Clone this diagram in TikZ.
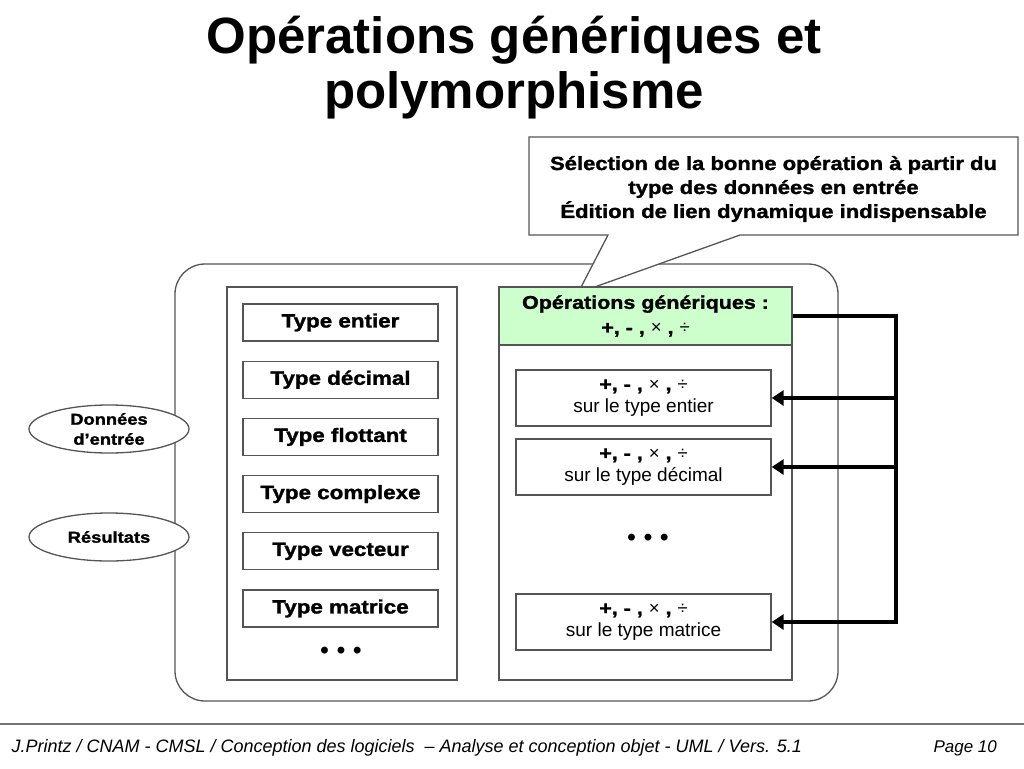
\documentclass[tikz,border=0pt]{standalone}
\usepackage{fontspec}
\setmainfont{Liberation Sans}
\newfontfamily\titlefont[FakeStretch=1.0]{Liberation Sans}
\newfontfamily\blackfont[FakeStretch=1.16,FakeBold=1.5]{Liberation Sans}
\usepackage{tikz}
\usetikzlibrary{arrows.meta,shapes.geometric,positioning}
\definecolor{opgreen}{RGB}{204,255,204}
\definecolor{linegray}{RGB}{85,85,85}
\newcommand{\opsigns}{+, - , {\rmfamily\mdseries ×} , {\rmfamily\mdseries ÷}}
\newcommand{\threedots}{•\hspace{8pt}•\hspace{8pt}•}
\tikzstyle{frame} = [draw=linegray, line width=1.3pt]
\tikzstyle{colbox} = [draw=linegray, line width=1.3pt, fill=white, inner sep=0pt]
\tikzstyle{typebox} = [draw=linegray, line width=1.3pt, minimum width=195pt, minimum height=37pt, inner sep=0pt, font=\blackfont\bfseries\fontsize{19.3}{22}\selectfont]
\tikzstyle{hdrbox} = [draw=linegray, line width=1.3pt, fill=opgreen, minimum width=293pt, minimum height=58pt, inner sep=0pt, align=center, font=\blackfont\bfseries\fontsize{18.5}{25}\selectfont]
\tikzstyle{opbox} = [draw=linegray, line width=1.3pt, fill=white, minimum width=255pt, minimum height=56pt, inner sep=0pt, align=center, font=\fontsize{19}{22}\selectfont]
\tikzstyle{ioell} = [ellipse, draw=linegray, line width=1.3pt, fill=white, minimum width=160pt, minimum height=48pt, inner sep=0pt, align=center, font=\blackfont\bfseries\fontsize{15.8}{20}\selectfont]
\tikzstyle{dots} = [font=\bfseries\fontsize{24}{24}\selectfont]
\tikzstyle{bus} = [line width=4.5pt, line join=miter, -{Triangle[length=12pt,width=15pt]}]

\begin{document}
\begin{tikzpicture}[x=1pt, y=-1pt]
\useasboundingbox (0,0) rectangle (1024,768);

% Title
\node[font=\titlefont\bfseries\fontsize{51}{55}\selectfont, align=center] (title) at (514,68) {Opérations génériques et\\polymorphisme};

% Outer frame
\draw[frame, rounded corners=30pt] (175,264) rectangle (838,701);

% Callout
\draw[frame, fill=white] (608,235) -- (578,293) -- (740,235) -- (1018,235) -- (1018,137) -- (529,137) -- (529,235) -- cycle;
\node[font=\blackfont\bfseries\fontsize{19}{24}\selectfont, align=center] (note) at (773.5,189) {Sélection de la bonne opération à partir du\\type des données en entrée\\Édition de lien dynamique indispensable};

% Types column
\node[colbox, minimum width=230pt, minimum height=393pt] (types) at (342,483.5) {};
\node[typebox] (tent) at (340.5,322.5) {Type entier};
\node[typebox] (tdec) at (340.5,379.7) {Type décimal};
\node[typebox] (tflo) at (340.5,436.9) {Type flottant};
\node[typebox] (tcpx) at (340.5,494.1) {Type complexe};
\node[typebox] (tvec) at (340.5,551.3) {Type vecteur};
\node[typebox] (tmat) at (340.5,608.5) {Type matrice};
\node[dots] (tdots) at (341,653) {\threedots};

% Operations column
\node[colbox, minimum width=293pt, minimum height=393pt] (ops) at (645.5,483.5) {};
\node[hdrbox] (hdr) at (645.5,316) {Opérations génériques :\\\opsigns};
\node[opbox] (oent) at (643.5,398) {{\blackfont\bfseries\fontsize{18.5}{22}\selectfont\opsigns}\\sur le type entier};
\node[opbox] (odec) at (643.5,467) {{\blackfont\bfseries\fontsize{18.5}{22}\selectfont\opsigns}\\sur le type décimal};
\node[dots] (odots) at (648,540) {\threedots};
\node[opbox] (omat) at (643.5,622) {{\blackfont\bfseries\fontsize{18.5}{22}\selectfont\opsigns}\\sur le type matrice};

% Dispatch
\coordinate (bt) at (896,316);
\draw[bus] (hdr.east) -- (bt) |- (omat.east);
\draw[bus] (oent.east -| bt) -- (oent.east);
\draw[bus] (odec.east -| bt) -- (odec.east);

% Inputs and outputs
\node[ioell] (din) at (109,429) {Données\\d’entrée};
\node[ioell] (res) at (109,537) {Résultats};

% Footer
\draw[line width=2pt, color=black!55] (0,724) -- (1024,724);
\node[anchor=west, font=\itshape\fontsize{18}{20}\selectfont] (foot) at (8,748) {J.Printz / CNAM - CMSL / Conception des logiciels \ – Analyse et conception objet - UML / Vers. 5.1};
\node[anchor=west, font=\itshape\fontsize{17}{20}\selectfont] (page) at (930,748) {Page 10};
\end{tikzpicture}
\end{document}
